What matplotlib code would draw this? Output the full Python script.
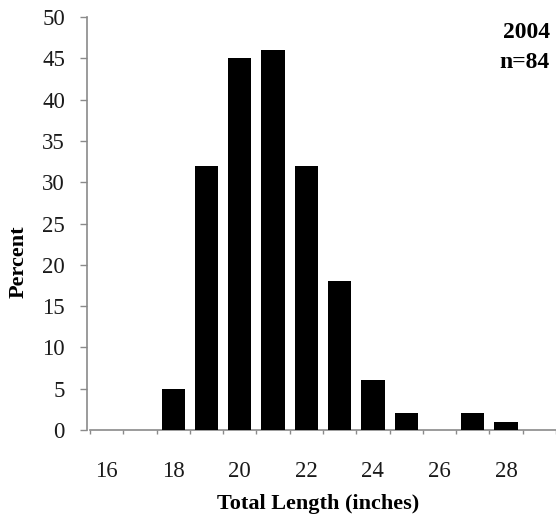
import numpy as np
import matplotlib
matplotlib.use('Agg')
import matplotlib.pyplot as plt

# length classes (inches) and percent in each class
lengths = [16, 17, 18, 19, 20, 21, 22, 23, 24, 25, 26, 27, 28, 29]
percent = [0, 0, 5, 32, 45, 46, 32, 18, 6, 2, 0, 2, 1, 0]
xtick_labels = [16, 18, 20, 22, 24, 26, 28]
yticks = [0, 5, 10, 15, 20, 25, 30, 35, 40, 45, 50]

plt.rcParams['font.family'] = ['Liberation Serif', 'DejaVu Serif']

W, H = 556, 522
fig = plt.figure(figsize=(W / 100, H / 100), dpi=100)
# axes box in pixels: x 90..556, y 17..430 (from top)
ax = fig.add_axes([90 / W, (H - 430) / H, (556 - 90) / W, (430 - 17) / H])

ax.bar(lengths, percent, width=0.7, color='black', zorder=3)

ax.set_xlim(15.5, 29.5)
ax.set_ylim(0, 50)

axis_col = '#8a8a8a'
for s in ['top', 'right']:
    ax.spines[s].set_visible(False)
for s in ['left', 'bottom']:
    ax.spines[s].set_color(axis_col)
    ax.spines[s].set_linewidth(1.2)
ax.spines['left'].set_position(('outward', 2))

ax.set_yticks(yticks)
ax.tick_params(axis='y', direction='out', length=5, width=1, color=axis_col,
               labelsize=16.5, pad=11, labelcolor='#1a1a1a')

ax.set_xticks(xtick_labels)
ax.set_xticks(np.arange(15.5, 29.6, 1.0), minor=True)
ax.tick_params(axis='x', which='major', length=0, labelsize=16.5, pad=22,
               labelcolor='#1a1a1a')
ax.tick_params(axis='x', which='minor', direction='out', length=3, width=1,
               color=axis_col)

ax.set_xlabel('Total Length (inches)', fontsize=16, fontweight='bold', va='center')
ax.set_ylabel('Percent', fontsize=16, fontweight='bold', va='center')
ax.xaxis.set_label_coords((318 - 90) / 466, -(504 - 430) / 413)
ax.yaxis.set_label_coords(-(90 - 19) / 466, (430 - 262) / 413)

fig.text(550 / W, 1 - 32 / H, '2004', ha='right', va='center', fontsize=17, fontweight='bold')
fig.text(550 / W, 1 - 62 / H, 'n=84', ha='right', va='center', fontsize=17, fontweight='bold')

fig.savefig('out.png', dpi=100)
